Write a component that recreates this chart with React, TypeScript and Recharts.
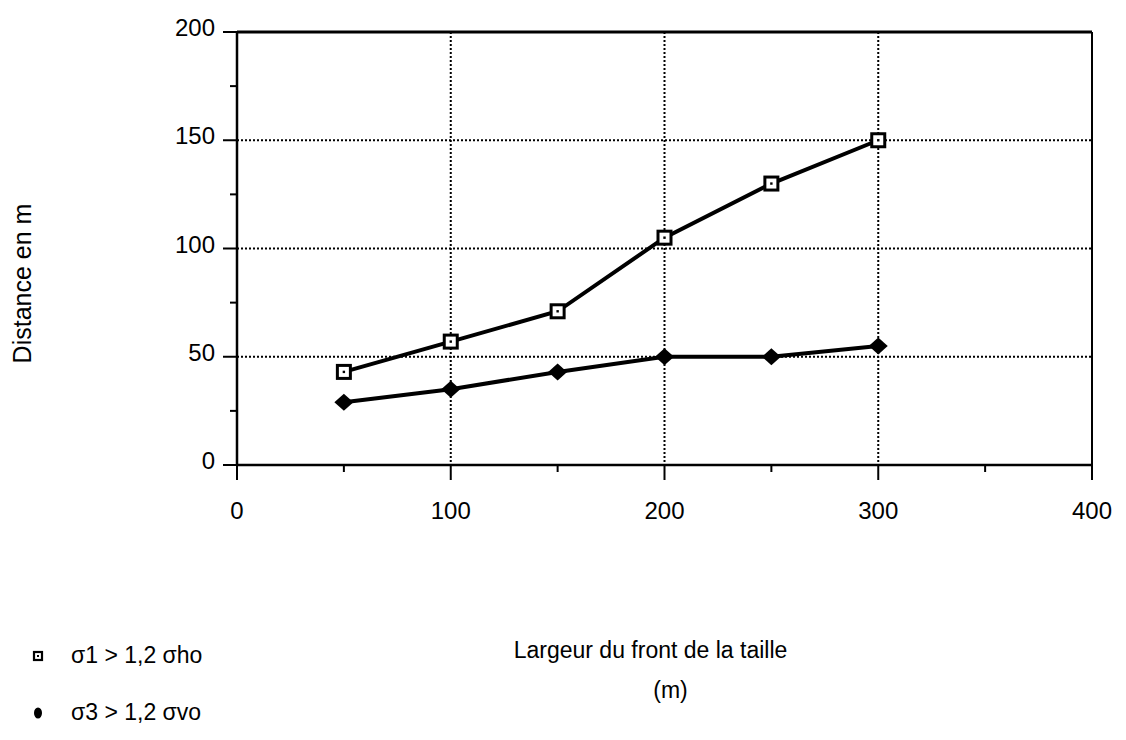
import React from 'react';
import { LineChart, Line, XAxis, YAxis, CartesianGrid, ReferenceLine, Legend, Label } from 'recharts';

// Largeur du front de la taille (m)
const widths = [50, 100, 150, 200, 250, 300];
// distances (m) for each criterion
const sigma1Values = [43, 57, 71, 105, 130, 150];
const sigma3Values = [29, 35, 43, 50, 50, 55];

const xTicks = [0, 50, 100, 150, 200, 250, 300, 350, 400];
const yTicks = [0, 25, 50, 75, 100, 125, 150, 175, 200];

const seriesNames = ['σ1 > 1,2 σho', 'σ3 > 1,2 σvo'];

const data = widths.map((w, i) => ({ x: w, s1: sigma1Values[i], s3: sigma3Values[i] }));

const FONT = '"Liberation Sans", Arial, sans-serif';

const YTick = (props: any) => {
    const { x, y, payload } = props;
    const major = payload.value % 50 === 0;
    return (
        <g>
            <line x1={x - (major ? 14 : 7)} x2={x} y1={y} y2={y} stroke="#000" strokeWidth={2} />
            {major && (
                <text x={x - 22} y={y} dy={4} textAnchor="end" fontSize={24} fill="#000" fontFamily={FONT}>
                    {payload.value}
                </text>
            )}
        </g>
    );
};

const XTick = (props: any) => {
    const { x, y, payload } = props;
    const major = payload.value % 100 === 0;
    return (
        <g>
            <line x1={x} x2={x} y1={y} y2={y + (major ? 15 : 7)} stroke="#000" strokeWidth={2} />
            {major && (
                <text x={x} y={y + 54} textAnchor="middle" fontSize={24} fill="#000" fontFamily={FONT}>
                    {payload.value}
                </text>
            )}
        </g>
    );
};

const SquareDot = (props: any) => {
    const { cx, cy } = props;
    if (cx == null || cy == null) return null;
    return (
        <g>
            <rect x={cx - 6.5} y={cy - 6.5} width={13} height={13} fill="#fff" stroke="#000" strokeWidth={3} />
            <rect x={cx - 1.2} y={cy - 1.2} width={2.4} height={2.4} fill="#000" />
        </g>
    );
};

const DiamondDot = (props: any) => {
    const { cx, cy } = props;
    if (cx == null || cy == null) return null;
    return <polygon points={`${cx - 9.5},${cy} ${cx},${cy - 8.5} ${cx + 9.5},${cy} ${cx},${cy + 8.5}`} fill="#000" />;
};

const renderLegend = () => (
    <div style={{ fontFamily: FONT, fontSize: 23, color: '#000' }}>
        {seriesNames.map((name, i) => (
            <div key={name} style={{ display: 'flex', alignItems: 'center', height: 57 }}>
                <svg width={30} height={20} style={{ marginRight: 13 }}>
                    {i === 0 ? (
                        <g>
                            <rect x={6} y={6} width={8} height={8} fill="#fff" stroke="#000" strokeWidth={2.2} />
                            <rect x={9} y={9} width={2} height={2} fill="#000" />
                        </g>
                    ) : (
                        <ellipse cx={10} cy={10} rx={4} ry={5.5} fill="#000" />
                    )}
                </svg>
                <span>{name}</span>
            </div>
        ))}
    </div>
);

export default function App() {
    return (
        <div style={{ position: 'absolute', left: 0, top: 0, width: 1126, height: 740, background: '#fff', fontFamily: FONT }}>
            <LineChart width={1126} height={740} data={data} margin={{ top: 32, right: 34, left: 236, bottom: 274 }}>
                <CartesianGrid
                    stroke="#000"
                    strokeWidth={2}
                    strokeDasharray="2 2"
                    horizontalValues={[50, 100, 150]}
                    verticalValues={[100, 200, 300]}
                />
                <XAxis
                    type="number"
                    dataKey="x"
                    domain={[0, 400]}
                    ticks={xTicks}
                    tick={<XTick />}
                    tickLine={false}
                    tickSize={0}
                    tickMargin={0}
                    height={1}
                    axisLine={{ stroke: '#000', strokeWidth: 2.5 }}
                    interval={0}
                >
                    <Label
                        content={(p: any) => {
                            const vb = p.viewBox;
                            const cx = vb.x + vb.width / 2;
                            return (
                                <g fontFamily={FONT} fontSize={23} fill="#000">
                                    <text x={cx - 14} y={vb.y + 193} textAnchor="middle">Largeur du front de la taille</text>
                                    <text x={cx + 6} y={vb.y + 233} textAnchor="middle">(m)</text>
                                </g>
                            );
                        }}
                    />
                </XAxis>
                <YAxis
                    type="number"
                    domain={[0, 200]}
                    ticks={yTicks}
                    tick={<YTick />}
                    tickLine={false}
                    tickSize={0}
                    tickMargin={0}
                    width={1}
                    axisLine={{ stroke: '#000', strokeWidth: 2.5 }}
                    interval={0}
                >
                    <Label
                        content={(p: any) => {
                            const vb = p.viewBox;
                            const cy = vb.y + vb.height / 2 + 35;
                            return (
                                <text x={22} y={cy} transform={`rotate(-90 22 ${cy})`} textAnchor="middle" dominantBaseline="central" fontFamily={FONT} fontSize={25} fill="#000">
                                    Distance en m
                                </text>
                            );
                        }}
                    />
                </YAxis>
                <ReferenceLine y={200} stroke="#000" strokeWidth={3} />
                <ReferenceLine x={400} stroke="#000" strokeWidth={2} />
                <Legend
                    layout="horizontal"
                    verticalAlign="middle"
                    align="center"
                    content={renderLegend}
                    wrapperStyle={{ position: 'absolute', left: 28, top: 627, width: 320, bottom: 'auto' }}
                />
                <Line
                    type="linear"
                    dataKey="s1"
                    name={seriesNames[0]}
                    stroke="#000"
                    strokeWidth={4}
                    dot={<SquareDot />}
                    isAnimationActive={false}
                />
                <Line
                    type="linear"
                    dataKey="s3"
                    name={seriesNames[1]}
                    stroke="#000"
                    strokeWidth={4}
                    dot={<DiamondDot />}
                    isAnimationActive={false}
                />
            </LineChart>
        </div>
    );
}
